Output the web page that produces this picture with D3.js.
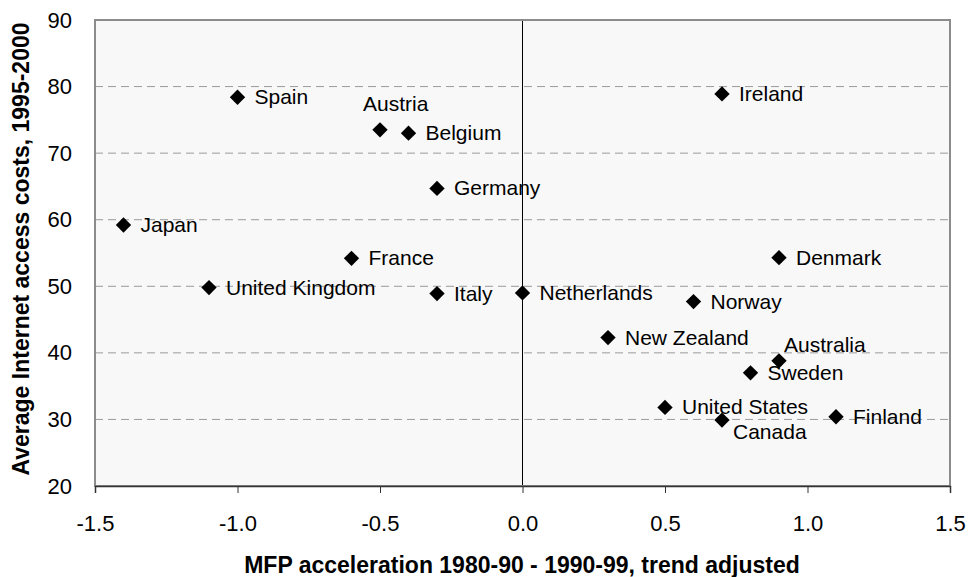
<!DOCTYPE html>
<html>
<head>
<meta charset="utf-8">
<script src="https://d3js.org/d3.v7.min.js"></script>
<style>
  body { margin: 0; background: #fff; }
  text { font-family: "Liberation Sans", Arial, sans-serif; }
</style>
</head>
<body>
<div id="chart"></div>
<script>
// country data
var countries = ["Spain", "Austria", "Belgium", "Germany", "Japan", "France", "United Kingdom", "Italy", "Netherlands",
                 "Ireland", "Denmark", "Norway", "New Zealand", "Australia", "Sweden", "United States", "Canada", "Finland"];
var mfpAccel = [-1.0, -0.5, -0.4, -0.3, -1.4, -0.6, -1.1, -0.3, 0.0,
                0.7, 0.9, 0.6, 0.3, 0.9, 0.8, 0.5, 0.7, 1.1];
var accessCost = [78.4, 73.5, 73.0, 64.7, 59.2, 54.2, 49.8, 48.9, 49.0,
                  78.9, 54.3, 47.7, 42.3, 38.8, 37.0, 31.8, 29.9, 30.4];
// label placement: r = right of marker, a = above left, ar = above right, br = below right
var labelPos = ["r", "a", "r", "r", "r", "r", "r", "r", "r",
                "r", "r", "r", "r", "ar", "r", "r", "br", "r"];
var xTicks = [-1.5, -1.0, -0.5, 0.0, 0.5, 1.0, 1.5];
var yTicks = [20, 30, 40, 50, 60, 70, 80, 90];

var width = 968, height = 577;
var margin = {left: 95, right: 18, top: 20, bottom: 91};

var svg = d3.select("#chart").append("svg").attr("width", width).attr("height", height);

var x = d3.scaleLinear().domain([-1.5, 1.5]).range([margin.left, width - margin.right]);
var y = d3.scaleLinear().domain([20, 90]).range([height - margin.bottom, margin.top]);

svg.append("rect")
    .attr("x", x(-1.5)).attr("y", y(90))
    .attr("width", x(1.5) - x(-1.5)).attr("height", y(20) - y(90))
    .attr("fill", "#f8f8f8");

// dashed gridlines
svg.selectAll(".grid").data(yTicks.slice(1, -1)).enter().append("line")
    .attr("x1", x(-1.5)).attr("x2", x(1.5))
    .attr("y1", function(d) { return y(d); }).attr("y2", function(d) { return y(d); })
    .attr("stroke", "#9a9a9a").attr("stroke-width", 1).attr("stroke-dasharray", "8,5");

// vertical zero line
svg.append("line")
    .attr("x1", x(0)).attr("x2", x(0)).attr("y1", y(90)).attr("y2", y(20))
    .attr("stroke", "#000").attr("stroke-width", 1);

// frame
svg.append("rect")
    .attr("x", x(-1.5)).attr("y", y(90))
    .attr("width", x(1.5) - x(-1.5)).attr("height", y(20) - y(90))
    .attr("fill", "none").attr("stroke", "#8c8c8c").attr("stroke-width", 2);

// x axis (plain hyphen for negatives, like the original)
var fmt = function(d) { return d3.format(".1f")(d).replace("\u2212", "-"); };
var xAxis = svg.append("g")
    .attr("transform", "translate(0," + y(20) + ")")
    .call(d3.axisBottom(x).tickValues(xTicks).tickFormat(fmt).tickSize(7).tickPadding(22));
xAxis.select(".domain").attr("stroke", "#333").attr("stroke-width", 1.5);
xAxis.selectAll(".tick line").attr("stroke", "#333");
xAxis.selectAll("text").attr("font-size", 22).attr("fill", "#000")
    .style("font-family", "'Liberation Sans', Arial, sans-serif");

// y axis
var yAxis = svg.append("g")
    .attr("transform", "translate(" + x(-1.5) + ",0)")
    .call(d3.axisLeft(y).tickValues(yTicks).tickSize(0).tickPadding(23));
yAxis.select(".domain").remove();
yAxis.selectAll("text").attr("font-size", 22).attr("fill", "#000")
    .style("font-family", "'Liberation Sans', Arial, sans-serif");

// axis titles
svg.append("text")
    .attr("x", 522).attr("y", 573)
    .attr("text-anchor", "middle").attr("font-size", 23).attr("font-weight", "bold")
    .text("MFP acceleration 1980-90 - 1990-99, trend adjusted");
svg.append("text")
    .attr("transform", "translate(29,249) rotate(-90)")
    .attr("text-anchor", "middle").attr("font-size", 23).attr("font-weight", "bold")
    .text("Average Internet access costs, 1995-2000");

var data = countries.map(function(c, i) {
    return {name: c, x: mfpAccel[i], y: accessCost[i], pos: labelPos[i]};
});

// diamonds
var diamond = d3.symbol().type(d3.symbolDiamond2).size(150);
svg.selectAll(".pt").data(data).enter().append("path")
    .attr("d", diamond)
    .attr("transform", function(d) { return "translate(" + x(d.x) + "," + y(d.y) + ")"; })
    .attr("fill", "#000");

// labels
svg.selectAll(".lbl").data(data).enter().append("text")
    .attr("font-size", 21)
    .attr("x", function(d) {
        if (d.pos === "a") return x(d.x) - 17;
        if (d.pos === "ar") return x(d.x) + 5;
        if (d.pos === "br") return x(d.x) + 11;
        return x(d.x) + 17;
    })
    .attr("y", function(d) {
        if (d.pos === "a") return y(d.y) - 19;
        if (d.pos === "ar") return y(d.y) - 9;
        if (d.pos === "br") return y(d.y) + 19;
        return y(d.y) + 7;
    })
    .text(function(d) { return d.name; });
</script>
</body>
</html>
